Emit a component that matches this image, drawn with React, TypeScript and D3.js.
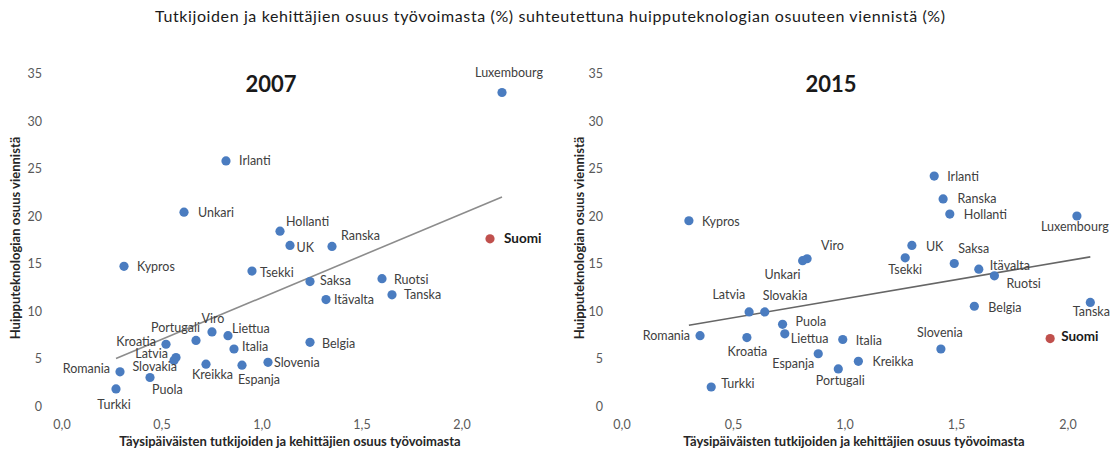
import React from "react";
import * as d3 from "d3";

// ---------- DATA ----------
const mainTitle =
  "Tutkijoiden ja kehittäjien osuus työvoimasta (%) suhteutettuna huipputeknologian osuuteen viennistä (%)";
const xAxisTitle = "Täysipäiväisten tutkijoiden ja kehittäjien osuus työvoimasta";
const yAxisTitle = "Huipputeknologian osuus viennistä";
const xTicks = [0, 0.5, 1, 1.5, 2];
const yTicks = [0, 5, 10, 15, 20, 25, 30, 35];
const highlight = "Suomi";

const countries2007 = [
  "Luxembourg", "Suomi", "Irlanti", "Unkari", "Kypros", "Hollanti", "UK", "Ranska",
  "Tsekki", "Saksa", "Ruotsi", "Tanska", "Itävalta", "Belgia", "Slovenia", "Espanja",
  "Italia", "Liettua", "Viro", "Portugali", "Kroatia", "Latvia", "Slovakia", "Romania",
  "Puola", "Turkki", "Kreikka",
];
const x2007 = [
  2.2, 2.14, 0.82, 0.61, 0.31, 1.09, 1.14, 1.35,
  0.95, 1.24, 1.6, 1.65, 1.32, 1.24, 1.03, 0.9,
  0.86, 0.83, 0.75, 0.67, 0.52, 0.57, 0.56, 0.29,
  0.44, 0.27, 0.72,
];
const y2007 = [
  33.0, 17.6, 25.8, 20.4, 14.7, 18.4, 16.9, 16.8,
  14.2, 13.1, 13.4, 11.7, 11.2, 6.7, 4.6, 4.3,
  6.0, 7.4, 7.8, 6.9, 6.5, 5.1, 4.8, 3.6,
  3.0, 1.8, 4.4,
];
const trend2007X = [0.27, 2.2];
const trend2007Y = [5.0, 22.0];

const countries2015 = [
  "Kypros", "Viro", "Unkari", "Latvia", "Slovakia", "Romania", "Kroatia", "Puola",
  "Liettua", "Italia", "Espanja", "Portugali", "Kreikka", "Turkki", "Irlanti", "Ranska",
  "Hollanti", "Luxembourg", "UK", "Tsekki", "Saksa", "Itävalta", "Ruotsi", "Belgia",
  "Tanska", "Suomi", "Slovenia",
];
const x2015 = [
  0.3, 0.83, 0.81, 0.57, 0.64, 0.35, 0.56, 0.72,
  0.73, 0.99, 0.88, 0.97, 1.06, 0.4, 1.4, 1.44,
  1.47, 2.04, 1.3, 1.27, 1.49, 1.6, 1.67, 1.58,
  2.1, 1.92, 1.43,
];
const y2015 = [
  19.5, 15.5, 15.3, 9.9, 9.9, 7.4, 7.2, 8.6,
  7.6, 7.0, 5.5, 3.9, 4.7, 2.0, 24.2, 21.8,
  20.2, 20.0, 16.9, 15.6, 15.0, 14.4, 13.7, 10.5,
  10.9, 7.1, 6.0,
];
const trend2015X = [0.3, 2.1];
const trend2015Y = [8.5, 15.7];

// ---------- LABEL PLACEMENT (style) ----------
type Place = [number, number, "start" | "middle" | "end"];
const place2007: Record<string, Place> = {
  Luxembourg: [7, -16, "middle"], Suomi: [14, 4.5, "start"], Irlanti: [13, 4.5, "start"],
  Unkari: [14, 4.5, "start"], Kypros: [13, 4.5, "start"], Hollanti: [6, -5, "start"],
  UK: [6.5, 7, "start"], Ranska: [9, -6.5, "start"], Tsekki: [8, 5.5, "start"],
  Saksa: [10, 3, "start"], Ruotsi: [12, 5.5, "start"], Tanska: [12, 4.5, "start"],
  "Itävalta": [8, 4, "start"], Belgia: [12, 5.5, "start"], Slovenia: [6, 4.5, "start"],
  Espanja: [-4, 19, "start"], Italia: [8, 2, "start"], Liettua: [4, -3, "start"],
  Viro: [1, -9, "middle"], Portugali: [4, -8, "end"], Kroatia: [-10, 2, "end"],
  Latvia: [-8, 0, "end"], Slovakia: [3, 10.5, "end"], Romania: [-10, 1, "end"],
  Puola: [2, 16, "start"], Turkki: [-2, 20, "middle"], Kreikka: [6.5, 14.5, "middle"],
};
const place2015: Record<string, Place> = {
  Kypros: [13, 5, "start"], Viro: [14, -9, "start"], Unkari: [-2, 18, "end"],
  Latvia: [-4, -13, "end"], Slovakia: [-2, -12, "start"], Romania: [-10, 4, "end"],
  Kroatia: [0.5, 18, "middle"], Puola: [13, 2, "start"], Liettua: [6, 9, "start"],
  Italia: [13, 5, "start"], Espanja: [-4, 14, "end"], Portugali: [2, 16, "middle"],
  Kreikka: [14, 5, "start"], Turkki: [10, 1, "start"], Irlanti: [13, 4.5, "start"],
  Ranska: [14.5, 4.5, "start"], Hollanti: [14, 4.5, "start"], Luxembourg: [-2, 15, "middle"],
  UK: [14, 6, "start"], Tsekki: [0, 16.5, "middle"], Saksa: [4, -10.5, "start"],
  "Itävalta": [11, 1, "start"], Ruotsi: [12, 12, "start"], Belgia: [14, 5.5, "start"],
  Tanska: [1, 13.5, "middle"], Suomi: [11, 2, "start"], Slovenia: [-1, -12, "middle"],
};

const FONT = "Lato, 'Open Sans', 'DejaVu Sans', sans-serif";
const BLUE = "#4a7cc0";
const RED = "#c0504d";

const fmt = d3.formatLocale({ decimal: ",", thousands: " ", grouping: [3], currency: ["", "€"] }).format(".1f");

type PanelProps = {
  year: string;
  names: string[];
  xs: number[];
  ys: number[];
  tx: number[];
  ty: number[];
  place: Record<string, Place>;
  xRange: [number, number];
  yAxisTitleX: number;
  tickRight: number;
  titleX: number;
  xTitleX: number;
  trendColor: string;
};

function Panel(p: PanelProps) {
  const x = d3.scaleLinear().domain([0, 2]).range(p.xRange);
  const y = d3.scaleLinear().domain([0, 35]).range([406, 73.5]);
  const line = d3.line<number>().x((d) => x(p.tx[d])).y((d) => y(p.ty[d]));
  return (
    <g>
      <text x={p.titleX} y={92} textAnchor="middle" fontFamily={FONT} fontWeight={700} fontSize={22} fill="#1a1a1a">
        {p.year}
      </text>
      {yTicks.map((t) => (
        <text key={t} x={p.tickRight} y={y(t) + 4.5} textAnchor="end" fontFamily={FONT} fontSize={12.5} fill="#595959">
          {t}
        </text>
      ))}
      {xTicks.map((t) => (
        <text key={t} x={x(t)} y={429} textAnchor="middle" fontFamily={FONT} fontSize={12.5} fill="#595959">
          {fmt(t)}
        </text>
      ))}
      <text x={p.xTitleX} y={446} textAnchor="middle" fontFamily={FONT} fontWeight={700} fontSize={13} fill="#262626">
        {xAxisTitle}
      </text>
      <text
        transform={`translate(${p.yAxisTitleX},238) rotate(-90)`}
        textAnchor="middle"
        fontFamily={FONT}
        fontWeight={700}
        fontSize={13}
        fill="#262626"
      >
        {yAxisTitle}
      </text>
      <path d={line([0, 1]) || ""} stroke={p.trendColor} strokeWidth={1.6} fill="none" />
      {p.names.map((n, i) => {
        const isHi = n === highlight;
        const [dx, dy, anchor] = p.place[n] || [10, 4, "start"];
        const cx = x(p.xs[i]);
        const cy = y(p.ys[i]);
        return (
          <g key={n}>
            <circle cx={cx} cy={cy} r={4.6} fill={isHi ? RED : BLUE} />
            <text
              x={cx + dx}
              y={cy + dy}
              textAnchor={anchor}
              fontFamily={FONT}
              fontSize={isHi ? 13.5 : 12.5}
              fontWeight={isHi ? 700 : 400}
              fill={isHi ? "#1a1a1a" : "#404040"}
            >
              {n}
            </text>
          </g>
        );
      })}
    </g>
  );
}

export default function App() {
  return (
    <svg
      width={1111}
      height={455}
      viewBox="0 0 1111 455"
      style={{ position: "absolute", left: 0, top: 0, background: "#fff" }}
    >
      <rect width={1111} height={455} fill="#fff" />
      <text
        x={550}
        y={22}
        textAnchor="middle"
        fontFamily={FONT}
        fontSize={16}
        textLength={790}
        lengthAdjust="spacing"
        fill="#1a1a1a"
      >
        {mainTitle}
      </text>
      <Panel
        year="2007"
        names={countries2007}
        xs={x2007}
        ys={y2007}
        tx={trend2007X}
        ty={trend2007Y}
        place={place2007}
        xRange={[62, 462]}
        yAxisTitleX={20}
        tickRight={42}
        titleX={271}
        xTitleX={290}
        trendColor="#8c8c8c"
      />
      <Panel
        year="2015"
        names={countries2015}
        xs={x2015}
        ys={y2015}
        tx={trend2015X}
        ty={trend2015Y}
        place={place2015}
        xRange={[622, 1068]}
        yAxisTitleX={584}
        tickRight={603}
        titleX={831}
        xTitleX={854}
        trendColor="#666666"
      />
    </svg>
  );
}
